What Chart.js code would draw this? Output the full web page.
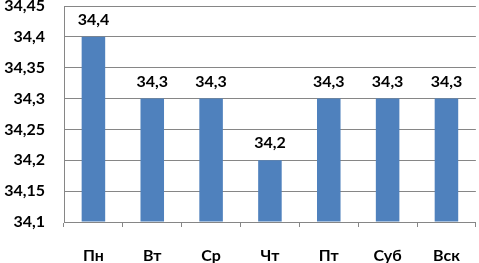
<!DOCTYPE html>
<html>
<head>
<meta charset="utf-8">
<script src="https://cdn.jsdelivr.net/npm/chart.js@4"></script>
<style>
  html, body { margin: 0; padding: 0; background: #fff; }
  #wrap { width: 479px; height: 263px; }
</style>
</head>
<body>
<div id="wrap"><canvas id="chart"></canvas></div>
<script>
const days = ["Пн", "Вт", "Ср", "Чт", "Пт", "Суб", "Вск"];
const temps = [34.4, 34.3, 34.3, 34.2, 34.3, 34.3, 34.3];
const yMin = 34.1;
const yMax = 34.45;
const yStep = 0.05;

const fmt = (v) => v.toFixed(2).replace(/0$/, "").replace(".", ",");
const font = { family: "Lato, 'Open Sans', sans-serif", size: 16, weight: "bold" };

// draws value above each bar
const valueLabels = {
  id: "valueLabels",
  afterDatasetsDraw(chart) {
    const ctx = chart.ctx;
    const meta = chart.getDatasetMeta(0);
    ctx.save();
    ctx.font = "bold 16px Lato, 'Open Sans', sans-serif";
    ctx.fillStyle = "#000";
    ctx.textAlign = "center";
    ctx.textBaseline = "alphabetic";
    meta.data.forEach((bar, i) => {
      ctx.fillText(temps[i].toFixed(1).replace(".", ","), bar.x, bar.y - 12);
    });
    ctx.restore();
  },
};

new Chart(document.getElementById("chart"), {
  type: "bar",
  data: {
    labels: days,
    datasets: [
      {
        data: temps,
        backgroundColor: "#4F81BD",
        barPercentage: 0.4,
        categoryPercentage: 1,
        base: yMin,
      },
    ],
  },
  options: {
    responsive: true,
    maintainAspectRatio: false,
    animation: false,
    layout: { padding: { top: 6, right: 2, left: 0, bottom: 0 } },
    plugins: {
      legend: { display: false },
      tooltip: { enabled: false },
    },
    scales: {
      x: {
        afterFit: (s) => { s.height = 41; },
        grid: {
          display: true,
          drawOnChartArea: false,
          offset: true,
          tickLength: 5,
          color: "#868686",
        },
        border: { color: "#868686" },
        ticks: { color: "#000", font: font, padding: 19 },
      },
      y: {
        min: yMin,
        max: yMax,
        afterFit: (s) => {
          s.width = 64;
          s.paddingTop = 0;
          s.paddingBottom = 0;
        },
        afterBuildTicks: (s) => {
          const t = [];
          for (let v = yMin; v <= yMax + 1e-9; v += yStep) t.push({ value: +v.toFixed(2) });
          s.ticks = t;
        },
        grid: { color: "#868686", drawTicks: false },
        border: { color: "#868686" },
        ticks: {
          color: "#000",
          font: font,
          padding: 19,
          callback: (v) => fmt(v),
        },
      },
    },
  },
  plugins: [valueLabels],
});
</script>
</body>
</html>
